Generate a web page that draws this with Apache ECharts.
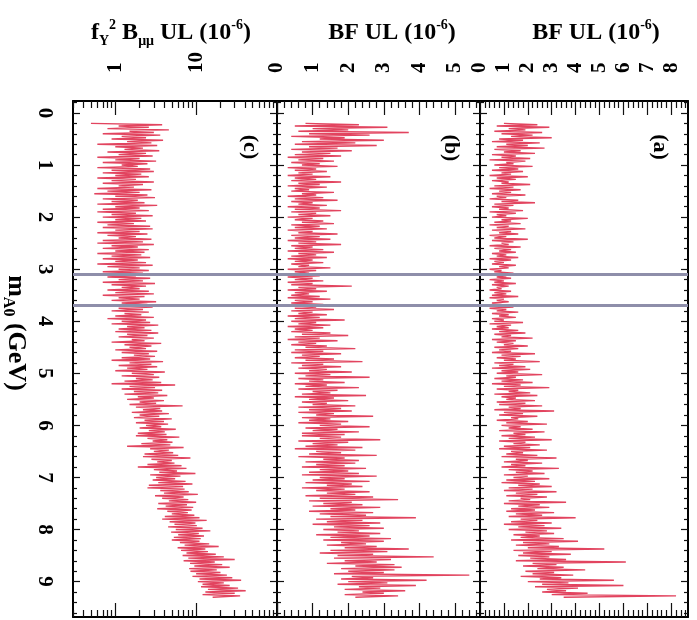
<!DOCTYPE html>
<html>
<head>
<meta charset="utf-8">
<script src="https://cdn.jsdelivr.net/npm/echarts@6/dist/echarts.min.js"></script>
<style>
  html, body { margin: 0; padding: 0; background: #fff; }
  #chart { width: 697px; height: 620px; }
</style>
</head>
<body>
<div id="chart"></div>
<script>
// m_A0 (GeV), one row per 0.5 GeV
var mass = [
  0.200,0.225,0.250,0.275,0.300,0.325,0.350,0.375,0.400,0.425,0.450,0.475,0.500,0.525,0.550,0.575,0.600,0.625,0.650,0.675,
  0.700,0.725,0.750,0.775,0.800,0.825,0.850,0.875,0.900,0.925,0.950,0.975,1.000,1.025,1.050,1.075,1.100,1.125,1.150,1.175,
  1.200,1.225,1.250,1.275,1.300,1.325,1.350,1.375,1.400,1.425,1.450,1.475,1.500,1.525,1.550,1.575,1.600,1.625,1.650,1.675,
  1.700,1.725,1.750,1.775,1.800,1.825,1.850,1.875,1.900,1.925,1.950,1.975,2.000,2.025,2.050,2.075,2.100,2.125,2.150,2.175,
  2.200,2.225,2.250,2.275,2.300,2.325,2.350,2.375,2.400,2.425,2.450,2.475,2.500,2.525,2.550,2.575,2.600,2.625,2.650,2.675,
  2.700,2.725,2.750,2.775,2.800,2.825,2.850,2.875,2.900,2.925,2.950,2.975,3.000,3.025,3.050,3.075,3.100,3.125,3.150,3.175,
  3.200,3.225,3.250,3.275,3.300,3.325,3.350,3.375,3.400,3.425,3.450,3.475,3.500,3.525,3.550,3.575,3.600,3.625,3.650,3.675,
  3.700,3.725,3.750,3.775,3.800,3.825,3.850,3.875,3.900,3.925,3.950,3.975,4.000,4.025,4.050,4.075,4.100,4.125,4.150,4.175,
  4.200,4.225,4.250,4.275,4.300,4.325,4.350,4.375,4.400,4.425,4.450,4.475,4.500,4.525,4.550,4.575,4.600,4.625,4.650,4.675,
  4.700,4.725,4.750,4.775,4.800,4.825,4.850,4.875,4.900,4.925,4.950,4.975,5.000,5.025,5.050,5.075,5.100,5.125,5.150,5.175,
  5.200,5.225,5.250,5.275,5.300,5.325,5.350,5.375,5.400,5.425,5.450,5.475,5.500,5.525,5.550,5.575,5.600,5.625,5.650,5.675,
  5.700,5.725,5.750,5.775,5.800,5.825,5.850,5.875,5.900,5.925,5.950,5.975,6.000,6.025,6.050,6.075,6.100,6.125,6.150,6.175,
  6.200,6.225,6.250,6.275,6.300,6.325,6.350,6.375,6.400,6.425,6.450,6.475,6.500,6.525,6.550,6.575,6.600,6.625,6.650,6.675,
  6.700,6.725,6.750,6.775,6.800,6.825,6.850,6.875,6.900,6.925,6.950,6.975,7.000,7.025,7.050,7.075,7.100,7.125,7.150,7.175,
  7.200,7.225,7.250,7.275,7.300,7.325,7.350,7.375,7.400,7.425,7.450,7.475,7.500,7.525,7.550,7.575,7.600,7.625,7.650,7.675,
  7.700,7.725,7.750,7.775,7.800,7.825,7.850,7.875,7.900,7.925,7.950,7.975,8.000,8.025,8.050,8.075,8.100,8.125,8.150,8.175,
  8.200,8.225,8.250,8.275,8.300,8.325,8.350,8.375,8.400,8.425,8.450,8.475,8.500,8.525,8.550,8.575,8.600,8.625,8.650,8.675,
  8.700,8.725,8.750,8.775,8.800,8.825,8.850,8.875,8.900,8.925,8.950,8.975,9.000,9.025,9.050,9.075,9.100,9.125,9.150,9.175,
  9.200,9.225,9.250,9.275,9.300
];

// (a) BF UL (10^-6)
var ulA = [
  1.0,2.4,0.7,2.9,1.2,1.9,0.6,2.6,0.9,2.2,1.3,3.0,0.8,1.8,0.5,2.5,1.1,2.0,0.7,2.7,
  0.6,1.7,1.0,2.3,0.5,1.5,0.9,2.1,0.4,1.9,1.1,1.4,0.6,2.2,0.8,1.6,0.5,1.8,0.9,1.3,
  0.4,2.0,0.7,1.5,0.5,1.2,0.9,2.1,0.6,1.4,0.4,1.7,0.8,1.3,0.5,1.9,0.7,1.1,0.4,1.6,
  0.9,2.3,0.6,1.4,0.5,1.2,0.8,1.8,0.4,1.5,0.7,1.1,0.5,2.0,0.9,1.3,0.6,1.7,0.4,1.2,
  0.7,1.9,0.5,1.3,0.8,1.6,0.4,1.1,0.6,2.0,0.5,1.4,0.9,1.2,0.4,1.7,0.6,1.3,0.8,1.5,
  0.5,1.1,0.7,1.6,0.4,1.3,0.6,1.0,0.5,1.5,0.8,1.2,0.4,0.9,0.6,1.4,0.5,1.1,0.7,1.3,
  0.4,1.0,0.6,1.5,0.5,1.2,0.7,0.9,0.4,1.3,0.6,1.1,0.5,1.6,0.4,1.0,0.7,1.2,0.5,0.9,
  0.6,1.4,0.4,1.1,0.7,1.6,0.5,1.2,0.8,1.5,0.5,1.0,0.6,1.8,0.4,1.3,0.7,1.2,0.5,1.6,
  0.8,1.9,0.6,1.3,0.9,2.2,0.5,1.5,0.7,1.4,1.0,2.0,0.6,1.6,0.8,1.3,0.5,2.3,0.9,1.7,
  0.7,1.5,1.0,2.5,0.6,1.4,0.8,1.9,0.5,2.1,0.9,1.6,0.7,2.6,1.1,1.5,0.6,1.8,0.9,2.2,
  0.5,1.7,1.0,2.9,0.7,1.6,1.2,2.1,0.6,2.4,0.9,1.5,1.1,2.3,0.7,1.9,0.8,2.6,1.2,1.7,
  0.6,3.1,1.0,1.8,0.8,2.4,1.3,1.6,0.7,2.0,1.1,2.8,0.9,1.7,1.2,2.2,0.8,2.7,1.4,1.9,
  0.9,2.3,1.2,3.0,0.8,1.9,1.4,2.5,1.0,2.1,0.8,2.8,1.3,1.8,1.1,2.4,0.9,3.2,1.5,2.0,
  1.0,2.6,1.3,1.9,0.9,3.3,1.2,2.2,1.5,2.7,1.0,2.0,1.4,2.9,1.1,2.3,0.9,2.5,1.6,3.0,
  1.2,2.2,1.0,3.2,1.5,2.4,1.1,2.8,1.7,2.1,1.2,3.6,1.0,2.5,1.6,2.9,1.3,2.3,1.1,3.1,
  1.5,2.6,1.2,4.0,1.7,2.4,1.3,3.0,1.0,2.7,1.6,3.4,1.2,2.8,1.9,3.1,1.4,2.5,1.7,3.5,
  1.3,4.1,1.8,2.9,1.5,3.3,2.0,5.2,1.4,3.0,1.8,3.8,1.6,2.9,2.1,3.6,1.5,6.1,2.2,3.2,
  1.8,3.5,2.4,4.4,1.9,3.1,2.2,3.9,1.7,3.4,2.5,5.6,2.0,3.7,2.6,6.0,2.3,4.1,2.8,3.6,
  2.6,4.5,3.0,8.2,3.5
];

// (b) BF UL (10^-6)
var ulB = [
  0.8,2.3,0.5,3.1,1.0,2.0,0.6,3.7,0.9,2.6,0.4,1.9,1.2,3.0,0.7,2.2,0.5,2.8,0.9,1.7,
  0.4,2.1,0.7,1.5,0.5,1.8,0.3,1.3,0.6,1.6,0.4,1.2,0.7,1.7,0.3,1.1,0.5,1.4,0.6,1.0,
  0.3,1.5,0.5,1.1,0.4,1.8,0.6,1.2,0.3,1.4,0.5,0.9,0.4,1.6,0.7,1.1,0.3,1.3,0.5,1.7,
  0.4,1.0,0.6,1.4,0.3,1.2,0.5,1.8,0.4,1.1,0.6,1.5,0.3,1.0,0.5,1.3,0.7,1.6,0.4,1.2,
  0.5,1.4,0.3,1.0,0.6,1.7,0.4,1.2,0.5,1.5,0.3,1.1,0.6,1.8,0.4,1.0,0.5,1.3,0.3,1.6,
  0.6,1.1,0.4,1.4,0.3,1.0,0.5,1.3,0.4,0.9,0.6,1.5,0.3,1.1,0.5,0.9,0.4,1.2,0.3,1.0,
  0.5,1.3,0.3,1.0,0.4,2.1,0.6,1.1,0.3,1.4,0.5,0.9,0.4,1.2,0.3,1.5,0.5,1.0,0.4,1.3,
  0.3,1.1,0.5,1.6,0.4,1.0,0.6,1.4,0.3,1.2,0.5,1.9,0.4,1.1,0.6,1.5,0.3,1.3,0.5,1.0,
  0.4,1.5,0.7,2.0,0.5,1.2,0.3,1.7,0.6,1.1,0.4,1.4,0.8,2.2,0.5,1.3,0.4,1.8,0.7,1.2,
  0.5,1.6,0.8,2.4,0.4,1.3,0.7,1.8,0.6,1.4,0.9,2.1,0.5,1.5,0.8,2.6,0.6,1.3,0.9,1.9,
  0.5,1.4,0.8,2.3,0.6,1.7,1.0,1.5,0.7,2.5,0.5,1.6,0.9,2.0,0.7,1.4,1.0,2.2,0.6,1.8,
  0.9,2.1,0.6,1.6,1.1,2.7,0.7,1.5,0.9,2.0,0.6,1.8,1.2,2.6,0.8,1.7,1.0,2.3,0.7,1.9,
  0.7,1.8,1.2,2.9,0.6,2.0,1.0,1.7,0.8,2.4,0.5,2.2,1.1,1.8,0.9,2.8,0.6,1.9,1.3,2.3,
  0.8,2.2,1.1,1.9,0.7,2.5,1.2,2.0,0.9,2.3,0.7,2.8,1.2,1.9,1.0,2.6,0.8,2.1,1.4,2.4,
  0.7,1.9,1.1,2.6,1.4,2.2,0.8,2.7,1.2,3.4,0.9,2.1,1.3,2.4,1.0,2.9,1.5,2.2,0.9,2.7,
  1.2,2.5,1.5,3.9,1.1,2.4,1.4,2.9,1.0,2.6,1.6,3.0,1.3,2.3,1.7,2.9,1.1,2.6,1.5,3.2,
  1.3,3.0,1.8,2.5,1.4,2.8,1.9,3.7,1.5,3.1,1.2,2.7,1.7,4.4,1.6,3.2,1.9,2.8,1.4,3.3,
  2.2,3.5,1.8,3.3,2.0,3.0,1.6,5.4,2.1,2.7,1.8,4.2,2.0,3.1,1.7,3.9,2.3,2.9,1.9,3.6,
  2.4,3.0,1.9,3.4,2.2
];

// (c) f_Y^2 B_mumu UL (10^-6), log scale
var ulC = [
  0.5,3.8,1.1,2.6,0.8,4.6,1.5,3.0,0.7,3.6,1.2,2.4,0.9,3.9,1.4,2.8,0.6,3.3,1.0,2.2,
  1.3,3.5,0.8,2.4,1.1,2.9,0.6,2.0,1.0,3.2,0.7,2.5,1.2,1.9,0.6,2.7,0.9,3.0,0.7,2.1,
  1.0,2.6,0.6,1.8,0.9,3.0,0.7,2.2,1.1,1.7,0.6,2.8,0.8,2.0,0.55,2.5,1.0,3.1,0.7,1.9,
  0.9,2.3,0.6,3.3,1.0,2.0,0.7,2.6,0.6,1.8,0.9,2.9,0.7,2.1,1.0,2.4,0.6,1.7,0.8,2.7,
  0.7,2.9,1.0,2.0,0.6,2.5,0.8,1.8,1.1,2.8,0.7,2.2,0.6,3.0,0.9,1.9,0.7,2.6,1.0,2.3,
  0.6,2.1,0.9,2.7,0.7,1.9,1.0,2.4,0.6,2.9,0.8,2.0,1.1,2.6,0.7,2.2,0.9,1.8,0.8,2.7,
  1.1,2.2,0.7,3.1,0.9,2.4,1.2,2.0,0.8,2.6,1.0,3.0,0.7,2.3,1.1,2.0,0.9,3.2,1.2,2.5,
  0.8,2.9,1.1,2.2,0.9,2.6,1.3,2.1,1.0,3.0,0.8,2.4,1.2,2.7,0.9,3.4,1.4,2.3,1.1,2.8,
  1.0,3.4,1.4,2.5,1.1,3.0,1.6,2.3,0.9,3.7,1.3,2.8,1.5,2.4,1.0,3.3,1.2,2.6,1.7,3.1,
  1.2,2.7,0.9,3.9,1.5,2.8,1.1,3.3,1.4,2.5,1.0,4.1,1.6,3.0,1.2,3.5,1.8,2.9,1.3,3.7,
  0.9,5.5,1.5,3.1,1.2,3.8,1.7,3.4,1.3,4.4,1.9,3.0,1.4,4.0,2.0,3.2,1.5,6.8,1.8,3.6,
  2.2,3.8,1.6,4.6,2.0,3.5,1.7,5.0,2.3,4.0,1.8,4.5,2.4,3.7,2.0,5.6,2.6,4.1,1.9,4.3,
  1.8,6.2,2.5,4.4,2.9,5.1,2.1,4.8,1.4,7.0,2.7,4.6,3.0,5.2,2.3,6.0,2.2,8.5,2.8,5.0,
  3.3,5.4,2.5,6.6,1.9,7.6,3.0,5.8,3.5,9.8,2.7,6.4,3.2,5.5,2.9,7.4,3.4,9.0,2.6,6.9,
  2.5,7.2,3.6,8.1,4.0,10.5,3.1,7.0,3.8,8.0,4.6,10.0,3.4,7.7,4.2,9.2,3.3,8.8,4.4,7.9,
  5.0,9.5,4.1,11.0,3.8,13.5,4.7,9.8,5.4,10.2,4.5,12.0,5.6,15.0,4.9,10.8,6.0,12.5,5.3,11.4,
  5.0,11.0,6.3,14.5,7.2,19.0,5.9,13.0,6.5,14.0,7.6,17.5,6.8,22.0,8.0,30.0,7.0,17.0,8.4,21.0,
  9.5,26.0,8.2,18.0,8.5,20.0,10.0,24.0,9.0,28.0,11.0,36.0,10.5,22.0,12.0,26.0,11.5,33.0,14.0,41.0,
  13.0,30.0,12.0,35.0,16.0
];

// J/psi and psi(2S) vetoed masses
var vetoLines = [3.097, 3.686];

var massTicks = [0, 1, 2, 3, 4, 5, 6, 7, 8, 9];
var ticksA = [0, 1, 2, 3, 4, 5, 6, 7, 8];
var ticksB = [0, 1, 2, 3, 4, 5];
var ticksC = [1, 10];
var ticksCmajor = [1, 10, 100];
var ticksCminor = [0.3, 0.4, 0.5, 0.6, 0.7, 0.8, 0.9, 2, 3, 4, 5, 6, 7, 8, 9, 20, 30, 40, 50, 60, 70, 80, 90];

function minorSteps(from, to, step) {
  var out = [];
  for (var k = Math.round(from / step); k * step <= to + 1e-9; k++) {
    var v = Math.round(k * step * 100) / 100;
    if (Math.abs(v - Math.round(v)) > 1e-6) out.push(v);
  }
  return out;
}

var MASS_MIN = -0.23, MASS_MAX = 9.68;
var SERIF = '"Liberation Serif", "DejaVu Serif", serif';
var RED = '#e2445f';

var chart = echarts.init(document.getElementById('chart'));

function axis(gridIndex, position, base, ticks, len, labels, margin, line) {
  return Object.assign({
    gridIndex: gridIndex,
    position: position,
    axisLine: { show: !!line, onZero: false, lineStyle: { color: '#000', width: 2 } },
    axisTick: { show: true, inside: true, length: len, customValues: ticks,
                lineStyle: { color: '#111', width: 1.2 } },
    axisLabel: labels ? {
      show: true, rotate: -90, customValues: labels, margin: margin,
      fontFamily: SERIF, fontWeight: 'bold', fontSize: 21, color: '#000'
    } : { show: false },
    splitLine: { show: false },
    minorTick: { show: false }
  }, base);
}

var grids = [
  { left: 73, width: 204, top: 101, height: 516 },   // (c)
  { left: 277, width: 203, top: 101, height: 516 },  // (b)
  { left: 480, width: 208, top: 101, height: 516 }   // (a)
];

var xAxes = [];
var yAxes = [];
var panelX = [
  { base: { type: 'log', logBase: 10, min: 0.3, max: 100 }, major: ticksCmajor, minor: ticksCminor, labels: ticksC },
  { base: { type: 'value', min: 0, max: 5.7 }, major: ticksB, minor: minorSteps(0, 5.7, 0.2), labels: ticksB },
  { base: { type: 'value', min: 0, max: 8.7 }, major: ticksA, minor: minorSteps(0, 8.7, 0.2), labels: ticksA }
];
var massMinor = minorSteps(-0.2, MASS_MAX, 0.2);
var massBase = { type: 'value', min: MASS_MIN, max: MASS_MAX, inverse: true };

var firstX = [], firstY = [];
panelX.forEach(function (p, g) {
  firstX.push(xAxes.length);
  xAxes.push(axis(g, 'top', p.base, p.major, 14, p.labels, 28, true));
  xAxes.push(axis(g, 'top', p.base, p.minor, 7, null, 0, false));
  xAxes.push(axis(g, 'bottom', p.base, p.major, 14, null, 0, true));
  xAxes.push(axis(g, 'bottom', p.base, p.minor, 7, null, 0, false));

  firstY.push(yAxes.length);
  yAxes.push(axis(g, 'left', massBase, massTicks, 7, g === 0 ? massTicks : null, 18, true));
  yAxes.push(axis(g, 'left', massBase, massMinor, 4, null, 0, false));
  yAxes.push(axis(g, 'right', massBase, massTicks, 7, null, 0, true));
  yAxes.push(axis(g, 'right', massBase, massMinor, 4, null, 0, false));
});

function trace(values, g) {
  return {
    type: 'line',
    xAxisIndex: firstX[g],
    yAxisIndex: firstY[g],
    data: mass.map(function (m, i) { return [values[i], m]; }),
    symbol: 'none',
    lineStyle: { color: RED, width: 1.4 },
    markLine: {
      silent: true, symbol: 'none', label: { show: false },
      lineStyle: { color: '#8e8eaa', width: 3, type: 'solid' },
      data: vetoLines.map(function (v) { return { yAxis: v }; })
    },
    animation: false
  };
}

var titleRich = {
  t: { fontFamily: SERIF, fontWeight: 'bold', fontSize: 24, lineHeight: 30, color: '#000' },
  sup: { fontFamily: SERIF, fontWeight: 'bold', fontSize: 14, verticalAlign: 'top', color: '#000' },
  sub: { fontFamily: SERIF, fontWeight: 'bold', fontSize: 14, verticalAlign: 'bottom', color: '#000' },
  tm: { fontFamily: SERIF, fontWeight: 'bold', fontSize: 26, lineHeight: 32, color: '#000' },
  subm: { fontFamily: SERIF, fontWeight: 'bold', fontSize: 16, verticalAlign: 'bottom', color: '#000' }
};

function label(text, x, y, rot, size) {
  return {
    type: 'text', x: x, y: y, rotation: rot || 0, silent: true,
    style: {
      text: text, rich: titleRich, align: 'center', verticalAlign: 'middle',
      fontFamily: SERIF, fontWeight: 'bold', fontSize: size || 24, fill: '#000'
    }
  };
}

chart.setOption({
  animation: false,
  backgroundColor: '#fff',
  grid: grids,
  xAxis: xAxes,
  yAxis: yAxes,
  series: [trace(ulC, 0), trace(ulB, 1), trace(ulA, 2)],
  graphic: [
    label('{t|f}{sub|Υ}{sup|2}{t| B}{sub|μμ}{t| UL (10}{sup|-6}{t|)}', 171, 33),
    label('{t|BF UL (10}{sup|-6}{t|)}', 392, 33),
    label('{t|BF UL (10}{sup|-6}{t|)}', 596, 33),
    label('{tm|m}{subm|A0}{tm| (GeV)}', 16, 333, -Math.PI / 2),
    label('(c)', 250, 147, -Math.PI / 2, 22),
    label('(b)', 451, 148, -Math.PI / 2, 22),
    label('(a)', 660, 147, -Math.PI / 2, 22)
  ]
});
</script>
</body>
</html>
